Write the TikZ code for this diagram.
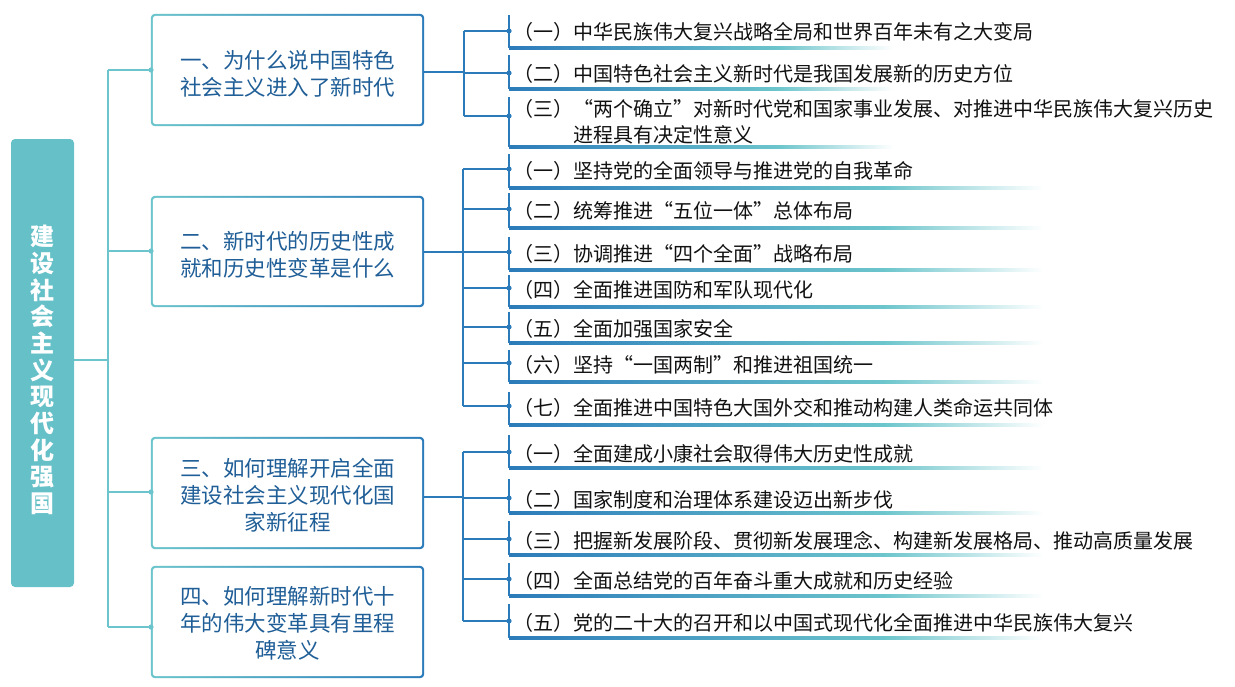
\documentclass[tikz,border=0pt]{standalone}
\usepackage{fontspec}
\newfontfamily\cjk{Noto Sans CJK SC}
\definecolor{rootteal}{HTML}{66C0C8}
\definecolor{lteal}{HTML}{6CC5CC}
\definecolor{rblue}{HTML}{2B7BBA}
\definecolor{btext}{HTML}{1F5E97}
\definecolor{ltext}{HTML}{111111}
\pgfdeclarehorizontalshading{boxgrad}{100bp}{color(0bp)=(lteal); color(25bp)=(lteal); color(75bp)=(rblue); color(100bp)=(rblue)}
\pgfdeclarehorizontalshading{ulgrad}{100bp}{color(0bp)=(rblue); color(25bp)=(rblue); color(60bp)=(lteal); color(75bp)=(white); color(100bp)=(white)}
\tikzset{
  lconn/.style={draw=lteal, line width=2pt},
  rconn/.style={draw=rblue, line width=2pt},
  leaftext/.style={anchor=west, inner sep=0pt, text=ltext, align=left,
     font=\cjk\fontsize{20}{26}\selectfont},
  lvltext/.style={inner sep=0pt, text=btext, align=center,
     font=\cjk\fontsize{21.5}{27}\selectfont},
  lvlbox/.style={inner sep=0pt, minimum width=273pt, minimum height=112pt},
}
% name, dotY, topY, bottomY, endX, textY, text
\newcommand\leafitem[7]{%
  \shade[shading=ulgrad] (509,#4-1.3) rectangle (#5,#4+1.3);
  \draw[rconn] (509,#3) -- (509,#4);
  \coordinate (d#1) at (509,#2);
  \fill[rblue] (d#1) circle (2.6pt);
  \node[leaftext] (l#1) at (513,#6) {#7};
}
\newcommand\lvlframe[1]{%
  \shade[shading=boxgrad, rounded corners=4pt] (#1.north west) rectangle (#1.south east);
  \fill[white, rounded corners=3pt] ([xshift=2pt,yshift=-2pt]#1.north west) rectangle ([xshift=-2pt,yshift=2pt]#1.south east);
}
\begin{document}
\begin{tikzpicture}[x=1pt,y=-1pt]
\useasboundingbox[fill=white] (0,0) rectangle (1235,686);
% root
\node[fill=rootteal, rounded corners=4pt, minimum width=63pt, minimum height=448pt, inner sep=0pt] (root) at (42.5,363) {};
\node[inner sep=0pt, text=white, align=center, font=\cjk\bfseries\fontsize{24}{26.7}\selectfont] (rootlabel) at (42.5,370) {建\\设\\社\\会\\主\\义\\现\\代\\化\\强\\国};

% level-1 boxes
\node[lvlbox] (b1) at (287.5,70) {};
\node[lvlbox, minimum height=111pt] (b2) at (287.5,251.5) {};
\node[lvlbox] (b3) at (287.5,493) {};
\node[lvlbox] (b4) at (287.5,622) {};
\lvlframe{b1}\lvlframe{b2}\lvlframe{b3}\lvlframe{b4}
\node[lvltext] (t1) at (287.5,74) {一、为什么说中国特色\\社会主义进入了新时代};
\node[lvltext] (t2) at (287.5,255) {二、新时代的历史性成\\就和历史性变革是什么};
\node[lvltext] (t3) at (287.5,495) {三、如何理解开启全面\\建设社会主义现代化国\\家新征程};
\node[lvltext] (t4) at (287.5,623) {四、如何理解新时代十\\年的伟大变革具有里程\\碑意义};

% left connectors
\coordinate (trunk) at (108,360);
\coordinate (c1) at (151,70);
\coordinate (c2) at (151,251);
\coordinate (c3) at (151,492);
\coordinate (c4) at (151,627);
\draw[lconn] (root.east |- trunk) -- (trunk);
\draw[lconn] (trunk |- c1) -- (trunk |- c4);
\foreach \c in {c1,c2,c3,c4}{
  \draw[lconn] (trunk |- \c) -- (\c);
  \fill[lteal] (\c) circle (2.6pt);
}

% group 1
\leafitem{11}{31}{15}{48}{893}{32}{（一）中华民族伟大复兴战略全局和世界百年未有之大变局}
\leafitem{12}{73}{55}{89}{893}{74}{（二）中国特色社会主义新时代是我国发展新的历史方位}
\leafitem{13}{116}{97}{147}{893}{122}{（三）“两个确立”对新时代党和国家事业发展、对推进中华民族伟大复兴历史\\\hspace*{60pt}进程具有决定性意义}
\coordinate (f1) at (464,72);
\draw[rconn] (b1.east |- f1) -- (f1);
\draw[rconn] (f1 |- d11) -- (f1 |- d13);
\foreach \d in {d11,d12,d13}{ \draw[rconn] (f1 |- \d) -- (\d); }

% group 2
\leafitem{21}{169}{154}{188}{1043}{170.5}{（一）坚持党的全面领导与推进党的自我革命}
\leafitem{22}{209}{193}{228}{1043}{210.5}{（二）统筹推进“五位一体”总体布局}
\leafitem{23}{252}{237}{270}{1043}{253.5}{（三）协调推进“四个全面”战略布局}
\leafitem{24}{288}{275}{307}{1043}{289.5}{（四）全面推进国防和军队现代化}
\leafitem{25}{327}{312}{343}{1043}{328.5}{（五）全面加强国家安全}
\leafitem{26}{363}{350}{382}{1043}{364.5}{（六）坚持“一国两制”和推进祖国统一}
\leafitem{27}{406}{392}{425}{1043}{407.5}{（七）全面推进中国特色大国外交和推动构建人类命运共同体}
\coordinate (f2) at (463,252);
\draw[rconn] (b2.east |- f2) -- (f2);
\draw[rconn] (f2 |- d21) -- (f2 |- d27);
\foreach \d in {d21,d22,d23,d24,d25,d26,d27}{ \draw[rconn] (f2 |- \d) -- (\d); }

% group 3
\leafitem{31}{452}{435}{468}{1043}{453.5}{（一）全面建成小康社会取得伟大历史性成就}
\leafitem{32}{498}{479}{513}{1043}{499.5}{（二）国家制度和治理体系建设迈出新步伐}
\leafitem{33}{539}{521}{555}{1043}{540.5}{（三）把握新发展阶段、贯彻新发展理念、构建新发展格局、推动高质量发展}
\leafitem{34}{579}{563}{596}{1043}{580.5}{（四）全面总结党的百年奋斗重大成就和历史经验}
\leafitem{35}{621}{604}{638}{1043}{622.5}{（五）党的二十大的召开和以中国式现代化全面推进中华民族伟大复兴}
\coordinate (f3) at (463,497);
\draw[rconn] (b3.east |- f3) -- (f3);
\draw[rconn] (f3 |- d31) -- (f3 |- d35);
\foreach \d in {d31,d32,d33,d34,d35}{ \draw[rconn] (f3 |- \d) -- (\d); }
\end{tikzpicture}
\end{document}
